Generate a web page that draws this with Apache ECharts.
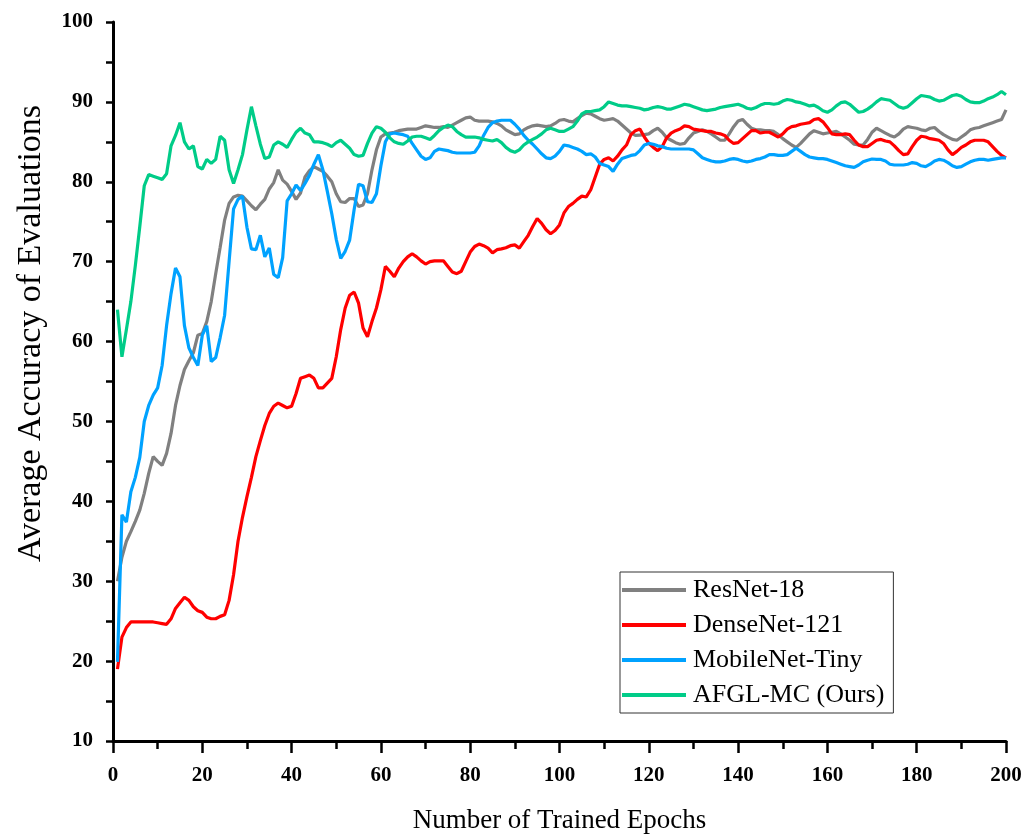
<!DOCTYPE html>
<html>
<head>
<meta charset="utf-8">
<script src="https://cdn.jsdelivr.net/npm/echarts@6/dist/echarts.min.js"></script>
<style>
html,body{margin:0;padding:0;background:#fff;}
#chart{width:1036px;height:834px;}
</style>
</head>
<body>
<div id="chart"></div>
<script>
const seriesNames = ['ResNet-18', 'DenseNet-121', 'MobileNet-Tiny', 'AFGL-MC (Ours)'];
const xTicks = [0, 20, 40, 60, 80, 100, 120, 140, 160, 180, 200];
const yTicks = [10, 20, 30, 40, 50, 60, 70, 80, 90, 100];

const resnet18 = [
30.0,33.0,35.0,36.2,37.5,38.9,41.0,43.5,45.6,45.0,
44.5,46.0,48.5,52.0,54.5,56.5,57.6,58.6,60.8,61.0,
62.5,65.0,68.5,71.8,75.2,77.3,78.1,78.3,78.2,77.6,
77.0,76.5,77.2,77.8,79.1,79.9,81.5,80.2,79.7,78.8,
77.8,78.6,80.6,81.4,81.9,81.6,81.3,80.7,80.0,78.5,
77.5,77.4,77.9,77.9,76.9,77.1,78.5,81.5,84.0,85.6,
86.0,86.1,86.2,86.4,86.5,86.6,86.6,86.6,86.8,87.0,
86.9,86.8,86.8,86.9,86.8,87.1,87.4,87.7,88.0,88.1,
87.7,87.6,87.6,87.6,87.5,87.3,87.0,86.5,86.2,85.9,
86.0,86.5,86.8,87.0,87.1,87.0,86.9,87.0,87.3,87.7,
87.8,87.6,87.5,87.9,88.3,88.6,88.5,88.2,87.9,87.7,
87.8,87.9,87.6,87.1,86.6,86.1,85.8,85.85,85.9,86.0,
86.4,86.7,86.2,85.5,85.2,84.9,84.7,84.8,85.5,86.1,
86.3,86.5,86.3,86.0,85.6,85.2,85.2,86.0,86.9,87.6,
87.8,87.2,86.7,86.5,86.5,86.4,86.4,86.3,85.9,85.4,
85.0,84.6,84.3,84.8,85.4,86.0,86.4,86.2,86.0,86.1,
86.2,86.3,86.0,85.6,85.2,84.7,84.6,84.6,85.3,86.2,
86.7,86.4,86.1,85.8,85.6,86.0,86.6,86.9,86.8,86.7,
86.5,86.4,86.7,86.8,86.3,85.9,85.6,85.3,85.2,85.6,
86.0,86.5,86.7,86.8,87.0,87.2,87.4,87.6,87.8,89.0
];

const densenet121 = [
19.0,23.0,24.2,24.9,24.9,24.9,24.9,24.9,24.9,24.8,
24.7,24.6,25.3,26.6,27.3,28.0,27.6,26.8,26.3,26.1,
25.5,25.3,25.3,25.6,25.8,27.6,30.8,35.0,38.0,40.6,
43.0,45.6,47.6,49.5,51.0,51.9,52.3,52.0,51.7,51.9,
53.5,55.4,55.6,55.8,55.4,54.2,54.2,54.8,55.4,58.1,
61.5,64.2,65.8,66.2,64.8,61.7,60.6,62.5,64.2,66.5,
69.4,68.8,68.1,69.2,70.0,70.6,71.0,70.6,70.1,69.7,
70.0,70.1,70.1,70.1,69.4,68.7,68.5,68.8,70.0,71.2,
71.9,72.2,72.0,71.7,71.1,71.5,71.6,71.75,72.0,72.1,
71.7,72.5,73.3,74.4,75.4,74.8,74.0,73.5,73.9,74.6,
76.1,76.9,77.3,77.8,78.2,78.1,79.0,80.6,82.2,82.8,
83.0,82.6,83.2,84.0,84.6,85.9,86.4,86.6,85.6,84.8,
84.3,83.9,84.4,85.5,86.1,86.4,86.6,87.0,86.9,86.6,
86.5,86.4,86.3,86.3,86.1,86.0,85.8,85.2,84.8,84.9,
85.4,85.9,86.4,86.4,86.1,86.2,86.2,85.9,85.6,86.0,
86.6,86.9,87.0,87.2,87.3,87.4,87.8,87.9,87.5,86.8,
86.0,85.9,85.9,86.0,85.9,85.2,84.6,84.4,84.4,84.8,
85.2,85.3,85.1,85.0,84.5,83.9,83.4,83.5,84.4,85.2,
85.7,85.6,85.4,85.3,85.2,84.8,84.0,83.4,83.8,84.3,
84.6,85.0,85.2,85.2,85.2,85.0,84.4,83.8,83.3,83.0
];

const mobilenetTiny = [
19.9,38.3,37.4,41.2,43.0,45.5,50.0,52.0,53.3,54.2,
57.0,62.0,66.0,69.2,68.1,62.0,59.2,58.0,57.0,60.8,
62.0,57.5,58.0,60.5,63.3,70.0,76.6,77.8,78.2,74.3,
71.6,71.5,73.3,70.6,71.7,68.4,68.0,70.5,77.6,78.5,
79.6,78.9,79.8,80.8,82.2,83.4,81.5,78.8,76.0,72.8,
70.4,71.3,72.7,76.5,79.7,79.5,77.5,77.4,78.5,82.0,
85.0,86.0,86.1,86.0,85.9,85.7,84.8,84.0,83.2,82.8,
83.0,83.8,84.1,84.0,83.9,83.7,83.6,83.6,83.6,83.6,
83.7,84.5,85.8,86.8,87.4,87.6,87.7,87.7,87.7,87.2,
86.6,85.8,85.2,84.7,84.1,83.5,83.0,82.9,83.2,83.8,
84.6,84.5,84.3,84.1,83.8,83.4,83.5,83.1,82.3,82.1,
81.9,81.3,82.2,82.9,83.1,83.3,83.4,83.9,84.6,84.8,
84.7,84.5,84.4,84.2,84.1,84.1,84.1,84.1,84.1,84.0,
83.5,83.0,82.8,82.6,82.5,82.5,82.6,82.8,82.9,82.8,
82.6,82.5,82.6,82.8,82.9,83.1,83.4,83.4,83.3,83.3,
83.4,83.8,84.2,83.8,83.4,83.1,83.0,82.9,82.9,82.8,
82.6,82.4,82.2,82.0,81.9,81.8,82.1,82.5,82.7,82.85,
82.8,82.8,82.6,82.2,82.1,82.1,82.1,82.2,82.4,82.3,
82.0,81.9,82.2,82.6,82.8,82.7,82.4,82.0,81.8,81.9,
82.2,82.5,82.7,82.8,82.8,82.7,82.8,82.9,83.0,83.0
];

const afglMc = [
64.0,58.1,61.5,65.0,69.5,74.4,79.5,80.9,80.7,80.5,
80.3,81.0,84.5,85.8,87.4,85.0,84.1,84.5,81.9,81.6,
82.8,82.3,82.8,85.7,85.2,81.5,79.8,81.5,83.4,86.5,
89.4,87.0,84.7,82.9,83.1,84.6,85.0,84.7,84.3,85.3,
86.2,86.7,86.1,85.9,85.0,85.0,84.9,84.7,84.4,84.9,
85.2,84.7,84.2,83.4,83.2,83.3,84.8,86.1,86.9,86.7,
86.2,85.5,85.0,84.8,84.7,85.1,85.6,85.7,85.7,85.5,
85.3,85.8,86.4,86.8,87.1,86.9,86.3,85.9,85.6,85.6,
85.6,85.5,85.3,85.2,85.1,85.3,84.9,84.3,83.9,83.7,
84.0,84.6,85.0,85.3,85.6,86.0,86.5,86.7,86.5,86.3,
86.3,86.6,86.9,87.6,88.5,88.8,88.8,88.9,89.0,89.4,
90.0,89.8,89.6,89.5,89.5,89.4,89.3,89.2,89.0,89.1,
89.3,89.4,89.3,89.1,89.1,89.3,89.5,89.7,89.6,89.4,
89.2,89.0,88.9,89.0,89.1,89.3,89.4,89.5,89.6,89.7,
89.5,89.2,89.1,89.3,89.6,89.8,89.8,89.7,89.8,90.1,
90.3,90.2,90.0,89.9,89.7,89.5,89.6,89.3,88.9,88.7,
89.0,89.5,89.9,90.0,89.7,89.2,88.7,88.8,89.1,89.5,
90.0,90.4,90.3,90.2,89.8,89.4,89.2,89.4,89.9,90.4,
90.8,90.7,90.6,90.3,90.1,90.2,90.5,90.8,90.9,90.7,
90.3,90.0,89.9,89.9,90.1,90.4,90.6,90.9,91.3,90.9
];

const colors = ['#808080', '#ff0000', '#00a2ff', '#00cc88'];
const allData = [resnet18, densenet121, mobilenetTiny, afglMc];

function toPairs(arr) {
  return arr.map((v, i) => [i + 1, v]);
}

const chart = echarts.init(document.getElementById('chart'), null, {renderer: 'canvas'});
const serif = '"Liberation Serif", "Times New Roman", serif';

chart.setOption({
  animation: false,
  backgroundColor: '#ffffff',
  grid: {left: 113, right: 30, top: 22, bottom: 93, containLabel: false, outerBoundsMode: 'none'},
  legend: {
    orient: 'vertical',
    left: 620,
    top: 572,
    padding: [5, 9, 5, 2],
    itemGap: 9,
    itemWidth: 64,
    itemHeight: 4,
    icon: 'rect',
    borderColor: '#333333',
    borderWidth: 1,
    backgroundColor: '#ffffff',
    textStyle: {fontFamily: serif, fontSize: 26, color: '#000', lineHeight: 26, padding: [0, 0, 0, 2]},
    data: seriesNames
  },
  xAxis: {
    type: 'value',
    min: xTicks[0],
    max: xTicks[xTicks.length - 1],
    interval: 20,
    name: 'Number of Trained Epochs',
    nameLocation: 'middle',
    nameGap: 66,
    nameTextStyle: {fontFamily: serif, fontSize: 27, color: '#000'},
    axisLine: {show: true, lineStyle: {color: '#000', width: 3}},
    axisTick: {show: true, length: 12, lineStyle: {color: '#000', width: 2.5}},
    minorTick: {show: true, splitNumber: 2, length: 8, lineStyle: {color: '#000', width: 2.5}},
    axisLabel: {fontFamily: serif, fontSize: 21, fontWeight: 'bold', color: '#000', margin: 24},
    splitLine: {show: false},
    minorSplitLine: {show: false}
  },
  yAxis: {
    type: 'value',
    min: yTicks[0],
    max: yTicks[yTicks.length - 1],
    interval: 5,
    name: 'Average Accuracy of Evaluations',
    nameLocation: 'middle',
    nameGap: 65,
    nameTextStyle: {fontFamily: serif, fontSize: 34, color: '#000', padding: [0, 0, 0, 96]},
    axisLine: {show: true, lineStyle: {color: '#000', width: 3}},
    axisTick: {show: true, length: 7, lineStyle: {color: '#000', width: 2.5}},
    axisLabel: {
      fontFamily: serif, fontSize: 21, fontWeight: 'bold', color: '#000', margin: 20,
      formatter: function (v) { return yTicks.indexOf(v) >= 0 ? String(v) : ''; }
    },
    splitLine: {show: false}
  },
  series: seriesNames.map((name, i) => ({
    name: name,
    type: 'line',
    data: toPairs(allData[i]),
    showSymbol: false,
    symbol: 'none',
    smooth: false,
    lineStyle: {color: colors[i], width: 3.2},
    itemStyle: {color: colors[i]},
    z: 2 + i
  }))
});
</script>
</body>
</html>
